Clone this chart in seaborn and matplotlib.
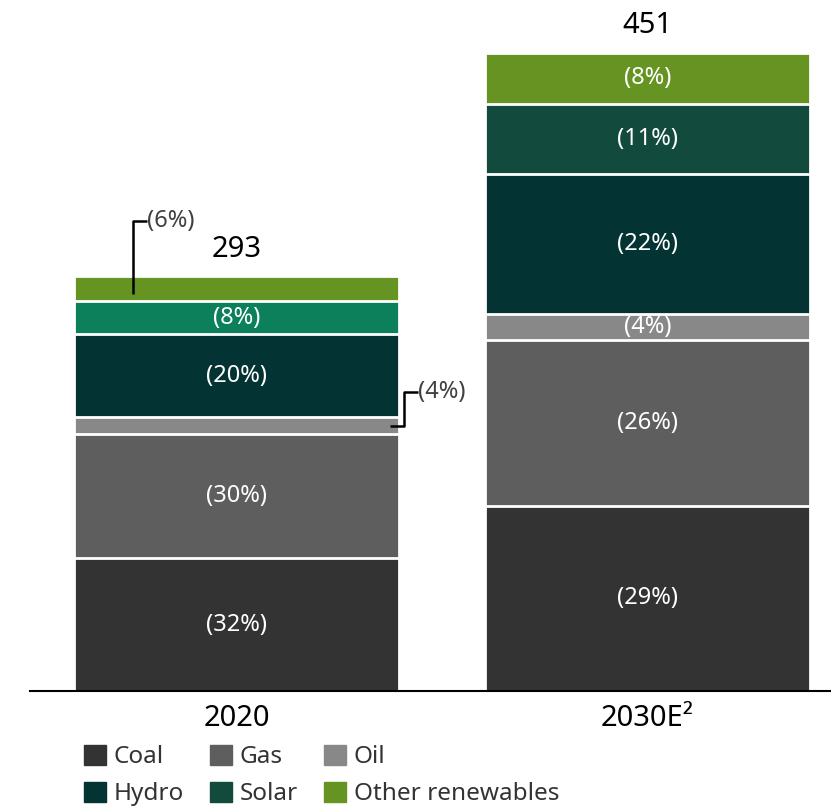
import numpy as np
import pandas as pd
import matplotlib.pyplot as plt
import seaborn as sns

# Data
years = ["2020", "2030E²"]
totals = [293, 451]
sources = ["Coal", "Gas", "Oil", "Hydro", "Solar", "Other renewables"]
share_2020 = [32, 30, 4, 20, 8, 6]
share_2030 = [29, 26, 4, 22, 11, 8]

# Colours (solar is a lighter green in 2020)
colors_2020 = ["#333333", "#5e5e5e", "#888888", "#033333", "#0b805a", "#669422"]
colors_2030 = ["#333333", "#5e5e5e", "#888888", "#033333", "#124b3d", "#669422"]

sns.set_theme(style="white")
plt.rcParams["font.family"] = ["Noto Sans", "DejaVu Sans"]

values = np.array([np.array(share_2020) * totals[0] / 100,
                   np.array(share_2030) * totals[1] / 100])
cum = values.cumsum(axis=1)
bottoms = cum - values

fig = plt.figure(figsize=(8.31, 8.06), dpi=100)
ax = fig.add_axes([30 / 831, 115 / 806, 801 / 831, 691 / 806])

bar_w = 0.79
# stack by overlapping cumulative bars, tallest first
for i in reversed(range(len(sources))):
    df = pd.DataFrame({"year": years, "value": cum[:, i]})
    sns.barplot(data=df, x="year", y="value", hue="year",
                palette=[colors_2020[i], colors_2030[i]], legend=False,
                saturation=1, width=bar_w, edgecolor="white", linewidth=2,
                errorbar=None, ax=ax)

# segment labels
for b in range(2):
    shares = share_2020 if b == 0 else share_2030
    for i, s in enumerate(sources):
        if b == 0 and s in ("Oil", "Other renewables"):
            continue
        ax.text(b, bottoms[b, i] + values[b, i] / 2, f"({shares[i]}%)",
                color="white", ha="center", va="center", fontsize=17)
    ax.text(b, totals[b] + 19, f"{totals[b]}", color="black",
            ha="center", va="center", fontsize=21)

# callouts for small 2020 segments
line_kw = dict(color="black", lw=1.8, solid_capstyle="butt")
x_or = -0.252
y_or = bottoms[0, 5] + values[0, 5] * 0.3
ax.plot([x_or, x_or, x_or + 0.035], [y_or, 332, 332], **line_kw)
ax.text(x_or + 0.035, 332, f"({share_2020[5]}%)", color="#404040",
        ha="left", va="center", fontsize=17)

x_oil = bar_w / 2 - 0.022
y_oil = bottoms[0, 2] + values[0, 2] / 2
ax.plot([x_oil, x_oil + 0.035, x_oil + 0.035, x_oil + 0.068],
        [y_oil, y_oil, 211, 211], **line_kw)
ax.text(x_oil + 0.068, 211, f"({share_2020[2]}%)", color="#404040",
        ha="left", va="center", fontsize=17)

ax.set_xlim(-0.502, 1.446)
ax.set_ylim(0, 488.3)
ax.set_xlabel("")
ax.set_ylabel("")
ax.set_yticks([])
ax.tick_params(axis="x", length=0, pad=9, labelsize=21, labelcolor="black")
for side in ["top", "right", "left"]:
    ax.spines[side].set_visible(False)
ax.spines["bottom"].set_color("black")
ax.spines["bottom"].set_linewidth(1.5)
ax.spines["bottom"].set_zorder(5)

# legend: row-major order Coal Gas Oil / Hydro Solar Other
handles = [plt.Rectangle((0, 0), 1, 1, color=c) for c in colors_2030]
order = [0, 3, 1, 4, 2, 5]
fig.legend([handles[k] for k in order], [sources[k] for k in order],
           ncol=3, loc="upper left", bbox_to_anchor=(84 / 831, 1 - 745 / 806),
           frameon=False, fontsize=17.5, handlelength=0.9, handleheight=0.9,
           handletextpad=0.32, columnspacing=1.08, labelspacing=0.5,
           borderaxespad=0, borderpad=0, labelcolor="#333333")

fig.savefig("out.png", dpi=100)
plt.close(fig)
